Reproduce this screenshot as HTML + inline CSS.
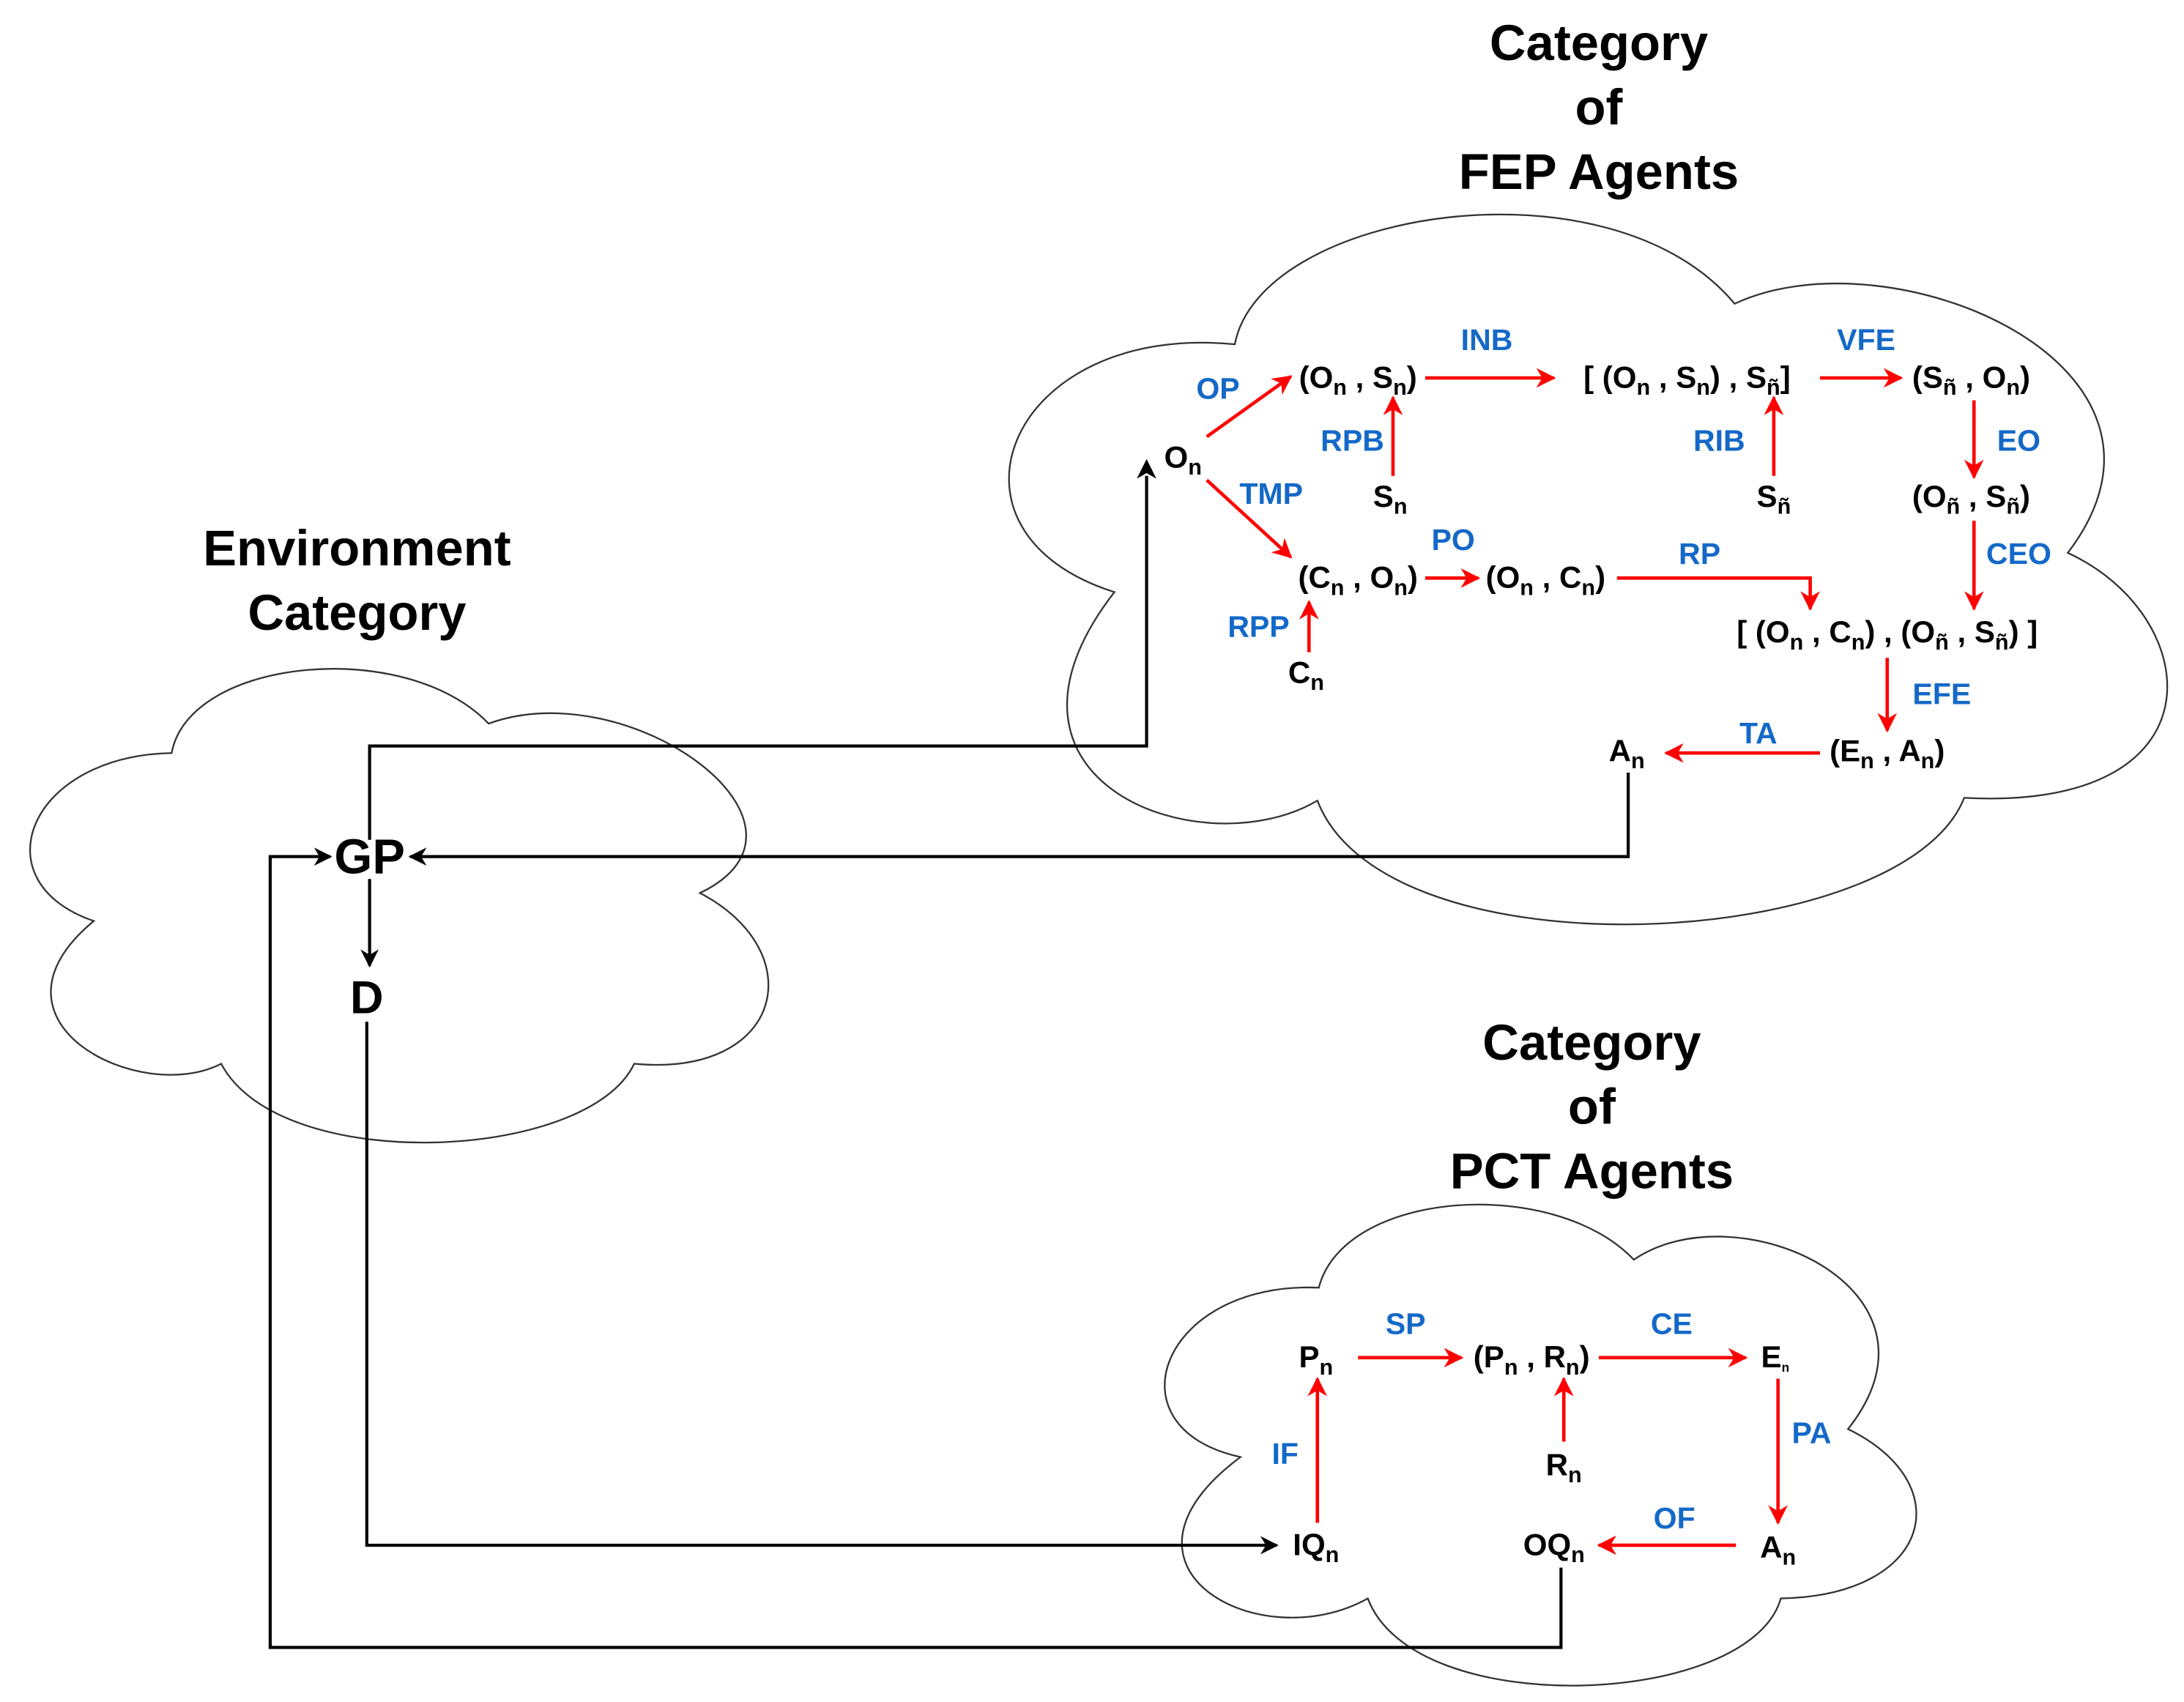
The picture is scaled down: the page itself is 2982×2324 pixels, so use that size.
<!DOCTYPE html>
<html><head><meta charset="utf-8">
<style>
html,body{margin:0;padding:0;background:#fff;}
svg{display:block;}
text{font-family:"Liberation Sans",Arial,sans-serif;font-weight:bold;}
.n{font-size:22px;fill:#000;}
.s{font-size:16px;}
.l{font-size:21.5px;fill:#1469c8;}
.t{font-size:36px;fill:#000;}
.c{fill:none;stroke:#333;stroke-width:1.2;}
.r{fill:none;stroke:#f00;stroke-width:2.4;marker-end:url(#mr);}
.b{fill:none;stroke:#000;stroke-width:2.2;}
.ba{fill:none;stroke:#000;stroke-width:2.2;marker-end:url(#mb);}
</style></head>
<body>
<svg width="2982" height="2324" viewBox="0 0 1560 1216" preserveAspectRatio="none" xmlns="http://www.w3.org/2000/svg">
<defs>
<marker id="mr" viewBox="0 0 10 10" refX="9" refY="5" markerUnits="userSpaceOnUse" markerWidth="14" markerHeight="14" orient="auto"><path d="M0,0 L10,5 L0,10 L3,5 z" fill="#f00"/></marker>
<marker id="mb" viewBox="0 0 10 10" refX="9" refY="5" markerUnits="userSpaceOnUse" markerWidth="13" markerHeight="13" orient="auto"><path d="M0,0 L10,5 L0,10 L3,5 z" fill="#000"/></marker>
</defs>

<path class="c" d="M 882 246 C 900 150, 1150 110, 1239 217 C 1350 165, 1580 260, 1477 395 C 1575 440, 1590 580, 1403 570 C 1360 680, 990 700, 941 572 C 860 620, 690 560, 796 423 C 660 380, 720 230, 882 246 Z"/>
<path class="c" d="M 122.6 538 C 135 470, 290 455, 349 517 C 450 480, 600 590, 500 638 C 580 680, 560 770, 453 760 C 420 830, 200 840, 158 760 C 100 790, -20 730, 67 658 C -15 630, 20 540, 122.6 538 Z"/>
<path class="c" d="M 942 920 C 960 850, 1110 840, 1167 900 C 1240 850, 1400 920, 1320 1021 C 1400 1060, 1380 1140, 1272 1142 C 1250 1220, 1010 1230, 977 1142 C 900 1185, 780 1120, 886 1041 C 790 1020, 830 915, 942 920 Z"/>

<text class="t" text-anchor="middle" x="1142" y="43">Category</text>
<text class="t" text-anchor="middle" x="1142" y="89">of</text>
<text class="t" text-anchor="middle" x="1142" y="135">FEP Agents</text>
<text class="t" text-anchor="middle" x="255" y="404">Environment</text>
<text class="t" text-anchor="middle" x="255" y="450">Category</text>
<text class="t" text-anchor="middle" x="1137" y="757">Category</text>
<text class="t" text-anchor="middle" x="1137" y="803">of</text>
<text class="t" text-anchor="middle" x="1137" y="849">PCT Agents</text>

<polyline class="b" points="264,600 264,533 819,533 819,340"/>
<path d="M812,342 L819,328 L826,342 L819,338 z" fill="#000"/>
<polyline class="ba" points="264,628 264,690"/>
<polyline class="ba" points="1163,552 1163,612 293,612"/>
<polyline class="ba" points="262,730 262,1104 912,1104"/>
<polyline class="ba" points="1115,1120 1115,1177 193,1177 193,612 236,612"/>

<text x="264" y="624" text-anchor="middle" style="font-size:35px">GP</text>
<text x="262" y="724" text-anchor="middle" style="font-size:33px">D</text>

<line class="r" x1="862" y1="312" x2="922" y2="269"/>
<line class="r" x1="1018" y1="270" x2="1110" y2="270"/>
<line class="r" x1="1300" y1="270" x2="1358" y2="270"/>
<line class="r" x1="995" y1="340" x2="995" y2="284"/>
<line class="r" x1="1267" y1="340" x2="1267" y2="284"/>
<line class="r" x1="1410" y1="286" x2="1410" y2="341"/>
<line class="r" x1="862" y1="343" x2="922" y2="398"/>
<line class="r" x1="1018" y1="413" x2="1056" y2="413"/>
<polyline class="r" points="1155,413 1293,413 1293,435"/>
<line class="r" x1="1410" y1="372" x2="1410" y2="435"/>
<line class="r" x1="935" y1="466" x2="935" y2="430"/>
<line class="r" x1="1348" y1="470" x2="1348" y2="522"/>
<line class="r" x1="1300" y1="538" x2="1190" y2="538"/>

<text class="n" x="845" y="334" text-anchor="middle">O<tspan class="s" dy="5">n</tspan></text>
<text class="n" x="970" y="277" text-anchor="middle">(O<tspan class="s" dy="5">n</tspan><tspan dy="-5"> , S</tspan><tspan class="s" dy="5">n</tspan><tspan dy="-5">)</tspan></text>
<text class="n" x="1205" y="277" text-anchor="middle">[ (O<tspan class="s" dy="5">n</tspan><tspan dy="-5"> , S</tspan><tspan class="s" dy="5">n</tspan><tspan dy="-5">) , S</tspan><tspan class="s" dy="5">ñ</tspan><tspan dy="-5">]</tspan></text>
<text class="n" x="1408" y="277" text-anchor="middle">(S<tspan class="s" dy="5">ñ</tspan><tspan dy="-5"> , O</tspan><tspan class="s" dy="5">n</tspan><tspan dy="-5">)</tspan></text>
<text class="n" x="993" y="362" text-anchor="middle">S<tspan class="s" dy="5">n</tspan></text>
<text class="n" x="1267" y="362" text-anchor="middle">S<tspan class="s" dy="5">ñ</tspan></text>
<text class="n" x="1408" y="362" text-anchor="middle">(O<tspan class="s" dy="5">ñ</tspan><tspan dy="-5"> , S</tspan><tspan class="s" dy="5">ñ</tspan><tspan dy="-5">)</tspan></text>
<text class="n" x="970" y="420" text-anchor="middle">(C<tspan class="s" dy="5">n</tspan><tspan dy="-5"> , O</tspan><tspan class="s" dy="5">n</tspan><tspan dy="-5">)</tspan></text>
<text class="n" x="1104" y="420" text-anchor="middle">(O<tspan class="s" dy="5">n</tspan><tspan dy="-5"> , C</tspan><tspan class="s" dy="5">n</tspan><tspan dy="-5">)</tspan></text>
<text class="n" x="933" y="488" text-anchor="middle">C<tspan class="s" dy="5">n</tspan></text>
<text class="n" x="1348" y="459" text-anchor="middle">[ (O<tspan class="s" dy="5">n</tspan><tspan dy="-5"> , C</tspan><tspan class="s" dy="5">n</tspan><tspan dy="-5">) , (O</tspan><tspan class="s" dy="5">ñ</tspan><tspan dy="-5"> , S</tspan><tspan class="s" dy="5">ñ</tspan><tspan dy="-5">) ]</tspan></text>
<text class="n" x="1162" y="544" text-anchor="middle">A<tspan class="s" dy="5">n</tspan></text>
<text class="n" x="1348" y="544" text-anchor="middle">(E<tspan class="s" dy="5">n</tspan><tspan dy="-5"> , A</tspan><tspan class="s" dy="5">n</tspan><tspan dy="-5">)</tspan></text>

<text class="l" x="870" y="285" text-anchor="middle">OP</text>
<text class="l" x="1062" y="250" text-anchor="middle">INB</text>
<text class="l" x="1333" y="250" text-anchor="middle">VFE</text>
<text class="l" x="966" y="322" text-anchor="middle">RPB</text>
<text class="l" x="1228" y="322" text-anchor="middle">RIB</text>
<text class="l" x="1442" y="322" text-anchor="middle">EO</text>
<text class="l" x="908" y="360" text-anchor="middle">TMP</text>
<text class="l" x="1038" y="393" text-anchor="middle">PO</text>
<text class="l" x="1214" y="403" text-anchor="middle">RP</text>
<text class="l" x="1442" y="403" text-anchor="middle">CEO</text>
<text class="l" x="899" y="455" text-anchor="middle">RPP</text>
<text class="l" x="1387" y="503" text-anchor="middle">EFE</text>
<text class="l" x="1256" y="531" text-anchor="middle">TA</text>

<line class="r" x1="970" y1="970" x2="1044" y2="970"/>
<line class="r" x1="1142" y1="970" x2="1247" y2="970"/>
<line class="r" x1="941" y1="1088" x2="941" y2="985"/>
<line class="r" x1="1117" y1="1030" x2="1117" y2="985"/>
<line class="r" x1="1270" y1="985" x2="1270" y2="1088"/>
<line class="r" x1="1240" y1="1104" x2="1142" y2="1104"/>

<text class="n" x="940" y="977" text-anchor="middle">P<tspan class="s" dy="5">n</tspan></text>
<text class="n" x="1094" y="977" text-anchor="middle">(P<tspan class="s" dy="5">n</tspan><tspan dy="-5"> , R</tspan><tspan class="s" dy="5">n</tspan><tspan dy="-5">)</tspan></text>
<text class="n" x="1268" y="977" text-anchor="middle">E<tspan style="font-size:9px" dy="3">n</tspan></text>
<text class="n" x="1117" y="1054" text-anchor="middle">R<tspan class="s" dy="5">n</tspan></text>
<text class="n" x="940" y="1111" text-anchor="middle">IQ<tspan class="s" dy="5">n</tspan></text>
<text class="n" x="1110" y="1111" text-anchor="middle">OQ<tspan class="s" dy="5">n</tspan></text>
<text class="n" x="1270" y="1113" text-anchor="middle">A<tspan class="s" dy="5">n</tspan></text>

<text class="l" x="1004" y="953" text-anchor="middle">SP</text>
<text class="l" x="1194" y="953" text-anchor="middle">CE</text>
<text class="l" x="918" y="1046" text-anchor="middle">IF</text>
<text class="l" x="1294" y="1031" text-anchor="middle">PA</text>
<text class="l" x="1196" y="1092" text-anchor="middle">OF</text>
</svg>
</body></html>
